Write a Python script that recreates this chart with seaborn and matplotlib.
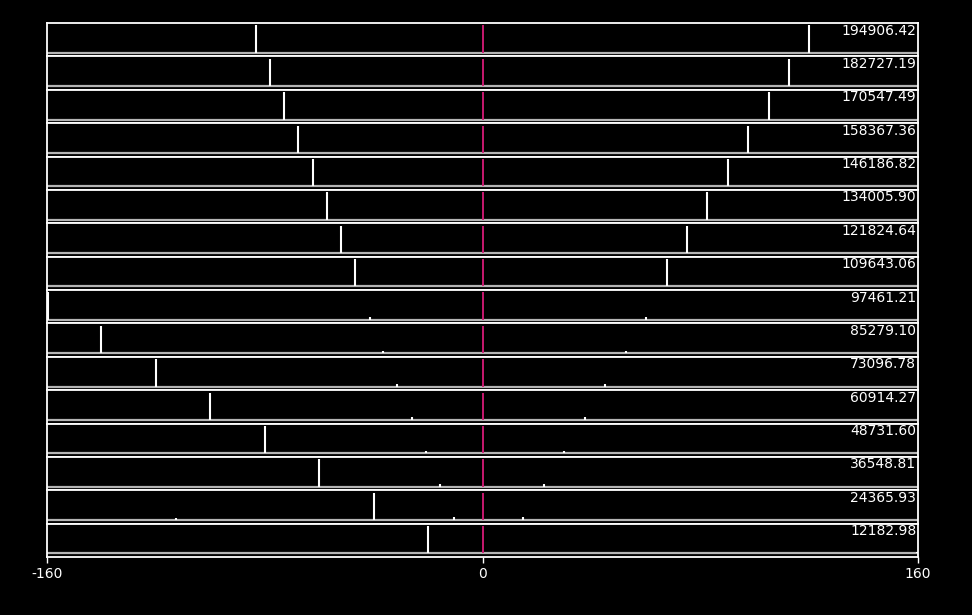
import matplotlib
matplotlib.use("Agg")
import matplotlib.pyplot as plt
import seaborn as sns
import pandas as pd

# row labels, top to bottom
labels = ["194906.42", "182727.19", "170547.49", "158367.36", "146186.82",
          "134005.90", "121824.64", "109643.06", "97461.21", "85279.10",
          "73096.78", "60914.27", "48731.60", "36548.81", "24365.93",
          "12182.98"]

# peak positions and heights for every row
peak_pos = [
    [-83.2, 120.0],
    [-78.1, 112.6],
    [-72.9, 105.3],
    [-67.8, 97.6],
    [-62.3, 90.2],
    [-57.1, 82.5],
    [-52.0, 75.1],
    [-46.8, 67.8],
    [-159.8, -41.3, 60.1],
    [-140.2, -36.6, 52.7],
    [-120.0, -31.4, 45.0],
    [-100.1, -25.9, 37.7],
    [-79.9, -20.8, 30.0],
    [-60.1, -15.6, 22.6],
    [-112.6, -39.9, -10.5, 14.9],
    [-56.4, -20.0, 159.6],
]
peak_height = [
    [1.0, 1.0],
    [1.0, 1.0],
    [1.0, 1.0],
    [1.0, 1.0],
    [1.0, 1.0],
    [1.0, 1.0],
    [1.0, 1.0],
    [1.0, 1.0],
    [1.0, 0.10, 0.10],
    [1.0, 0.09, 0.09],
    [1.0, 0.11, 0.11],
    [1.0, 0.10, 0.10],
    [1.0, 0.09, 0.09],
    [1.0, 0.10, 0.10],
    [0.06, 1.0, 0.10, 0.10],
    [0.03, 1.0, 0.04],
]

df = pd.DataFrame([
    {"label": lab, "pos": p, "height": h}
    for lab, ps, hs in zip(labels, peak_pos, peak_height)
    for p, h in zip(ps, hs)
])

sns.set_theme(style="dark", rc={
    "figure.facecolor": "black",
    "axes.facecolor": "black",
    "axes.edgecolor": "white",
    "axes.linewidth": 1.3,
    "text.color": "white",
    "xtick.color": "white",
    "ytick.color": "white",
})
plt.rcParams["font.family"] = ["DejaVu Sans"]


def draw_peaks(data, **kws):
    ax = plt.gca()
    ax.axhline(0, color="#b4b4b4", lw=1.6, zorder=1)
    ax.vlines(0, 0, 1.0, color="#d81b78", lw=1.3, zorder=2)
    ax.vlines(data["pos"], 0, data["height"], color="white", lw=1.5, zorder=3)


g = sns.FacetGrid(df, row="label", row_order=labels, sharex=True, sharey=True,
                  height=0.4, aspect=24, despine=False)
g.map_dataframe(draw_peaks)
g.figure.set_size_inches(9.72, 6.15)
g.figure.subplots_adjust(left=0.0484, right=0.9444, top=0.9626, bottom=0.0943,
                         hspace=0)
g.set_titles("")
g.set_axis_labels("", "")

axes = g.axes.flat
for i, (ax, lab) in enumerate(zip(axes, labels)):
    ax.set_xlim(-160, 160)
    ax.set_ylim(-0.13, 1.09)
    ax.set_yticks([])
    ax.set_title("")
    for s in ax.spines.values():
        s.set_color("white")
        s.set_linewidth(1.3)
    ax.text(0.998, 0.985, lab, transform=ax.transAxes, ha="right", va="top",
            color="white", fontsize=10)
    if i < len(labels) - 1:
        ax.tick_params(bottom=False, labelbottom=False)
    else:
        ax.set_xticks([-160, 0, 160])
        ax.set_xticklabels(["-160", "0", "160"])
        ax.tick_params(axis="x", bottom=True, direction="out", length=4,
                       width=1, colors="white", labelsize=10)

g.figure.savefig("out.png", dpi=100, facecolor="black")
